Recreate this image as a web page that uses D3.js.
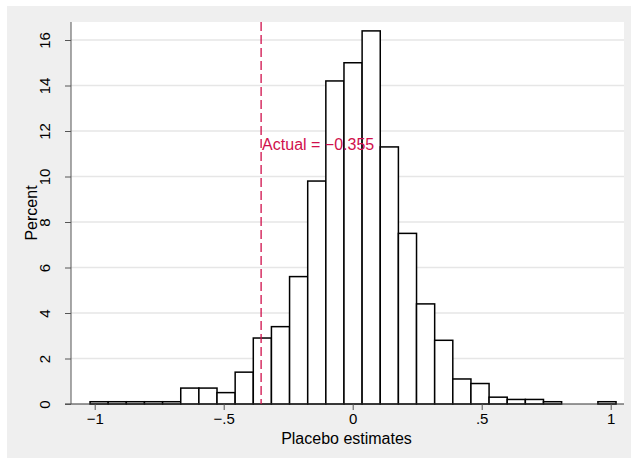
<!DOCTYPE html>
<html>
<head>
<meta charset="utf-8">
<script src="https://cdn.jsdelivr.net/npm/d3@7"></script>
<style>
  body { margin: 0; background: #fff; }
  text { font-family: "Liberation Sans", Arial, sans-serif; }
</style>
</head>
<body>
<div id="chart"></div>
<script>
// histogram bins (percent per bin)
const binStart = -1.018;
const binWidth = 0.0703;
const percents = [0.1, 0.1, 0.1, 0.1, 0.1, 0.7, 0.7, 0.5, 1.4, 2.9,
                  3.4, 5.6, 9.8, 14.2, 15.0, 16.4, 11.3, 7.5, 4.4, 2.8,
                  1.1, 0.9, 0.3, 0.2, 0.2, 0.1, 0, 0, 0.1];
const xTicks = [-1, -0.5, 0, 0.5, 1];
const xTickLabels = ["\u22121", "\u2212.5", "0", ".5", "1"];
const yTicks = [0, 2, 4, 6, 8, 10, 12, 14, 16];
const actualValue = -0.355;
const actualLabel = "Actual = \u22120.355";

const width = 631, height = 464;
const plot = { left: 71, top: 22, right: 624, bottom: 404 };

const svg = d3.select("#chart").append("svg")
    .attr("width", width)
    .attr("height", height);

// outer background and plot region
svg.append("rect").attr("x", 7).attr("y", 6).attr("width", 624).attr("height", 452)
    .attr("fill", "#efefef");
svg.append("rect").attr("x", plot.left).attr("y", plot.top)
    .attr("width", plot.right - plot.left).attr("height", plot.bottom - plot.top)
    .attr("fill", "#fff");

const x = d3.scaleLinear().domain([-1, 1]).range([94.7, 610.7]);
const y = d3.scaleLinear().domain([0, 16]).range([404, 40]);

// gridlines
svg.append("g").selectAll("line")
    .data(yTicks.filter(d => d > 0))
    .join("line")
    .attr("x1", plot.left).attr("x2", plot.right)
    .attr("y1", d => y(d)).attr("y2", d => y(d))
    .attr("stroke", "#e6e6e6").attr("stroke-width", 1.5);

// bars
const bins = percents.map((p, i) => ({ x0: binStart + i * binWidth, x1: binStart + (i + 1) * binWidth, p }));
svg.append("g").selectAll("rect")
    .data(bins.filter(d => d.p > 0))
    .join("rect")
    .attr("x", d => x(d.x0))
    .attr("width", d => x(d.x1) - x(d.x0))
    .attr("y", d => y(d.p))
    .attr("height", d => y(0) - y(d.p))
    .attr("fill", "#fff")
    .attr("stroke", "#000")
    .attr("stroke-width", 1.5);

// x axis
const xAxis = svg.append("g")
    .attr("transform", `translate(0,${plot.bottom})`)
    .call(d3.axisBottom(x).tickValues(xTicks).tickSize(6).tickPadding(3)
        .tickFormat((d, i) => xTickLabels[i]));
xAxis.select(".domain").attr("d", `M${plot.left - 6},0H${plot.right}`).attr("stroke", "#333");
xAxis.selectAll(".tick line").attr("stroke", "#555");
xAxis.selectAll("text").attr("font-size", 15).attr("fill", "#000")
    .attr("font-family", "Liberation Sans, Arial, sans-serif");

// y axis
const yAxis = svg.append("g")
    .attr("transform", `translate(${plot.left},0)`)
    .call(d3.axisLeft(y).tickValues(yTicks).tickSize(6).tickFormat(d3.format("d")));
yAxis.select(".domain").attr("d", `M0,${plot.top}V${plot.bottom}`).attr("stroke", "#555");
yAxis.selectAll(".tick line").attr("stroke", "#555");
yAxis.selectAll("text")
    .attr("font-size", 15).attr("fill", "#000")
    .attr("font-family", "Liberation Sans, Arial, sans-serif")
    .attr("x", null).attr("dy", null)
    .attr("text-anchor", "middle")
    .attr("transform", "translate(-21,0) rotate(-90)");

// axis titles
svg.append("text")
    .attr("x", (plot.left + plot.right) / 2 - 1).attr("y", 444)
    .attr("text-anchor", "middle").attr("font-size", 16)
    .text("Placebo estimates");
svg.append("text")
    .attr("transform", `translate(37,${(plot.top + plot.bottom) / 2}) rotate(-90)`)
    .attr("text-anchor", "middle").attr("font-size", 16)
    .text("Percent");

// actual estimate marker
svg.append("line")
    .attr("x1", x(actualValue)).attr("x2", x(actualValue))
    .attr("y1", plot.top).attr("y2", plot.bottom)
    .attr("stroke", "#d0104c").attr("stroke-width", 1.3)
    .attr("stroke-dasharray", "9,4");
svg.append("text")
    .attr("x", x(actualValue) + 1).attr("y", 150)
    .attr("font-size", 16).attr("fill", "#d0104c")
    .text(actualLabel);
</script>
</body>
</html>
